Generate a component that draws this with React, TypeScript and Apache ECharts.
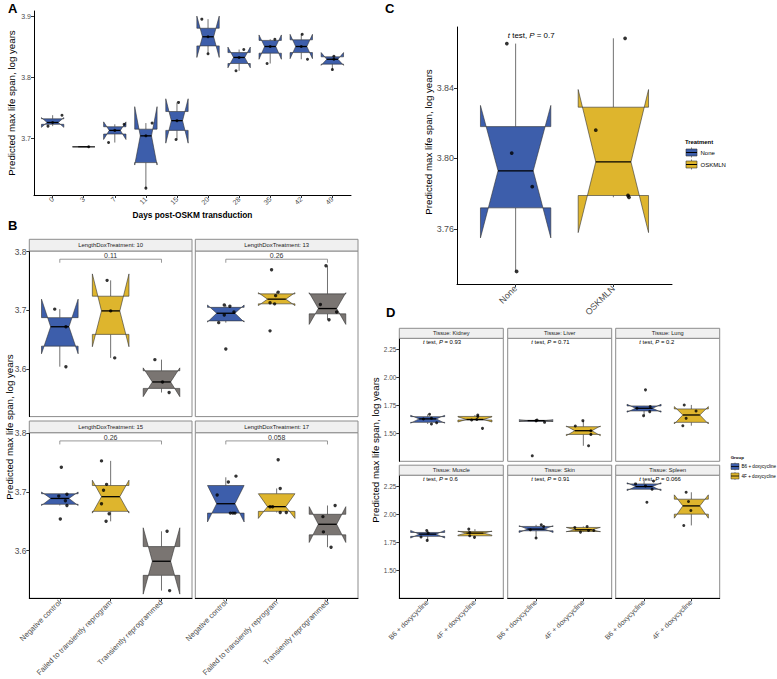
import React, { useEffect, useRef } from "react";
import * as echarts from "echarts";

const FONT = "'Liberation Sans', Arial, Helvetica, sans-serif";
const FILLS = ["#3D5EAB", "#DEB52D", "#7A7572"];
const OUTLINE = "#333333";
const TICK_COLOR = "#4D4D4D";

// Box statistics: [whiskerLow, notchLow, q1, median, q3, notchHigh, whiskerHigh]
// Points: [jitter, value]

// ---------- Panel A ----------
const daysA = ["0", "3", "7", "11", "15", "20", "28", "35", "42", "49"];
const boxesA = [
  [3.72, 3.718, 3.723, 3.726, 3.732, 3.734, 3.738],
  [3.686, 3.686, 3.686, 3.686, 3.686, 3.686, 3.686],
  [3.693, 3.698, 3.707, 3.713, 3.719, 3.727, 3.723],
  [3.618, 3.656, 3.66, 3.704, 3.715, 3.752, 3.725],
  [3.698, 3.692, 3.713, 3.729, 3.744, 3.765, 3.759],
  [3.839, 3.833, 3.852, 3.867, 3.881, 3.901, 3.896],
  [3.811, 3.816, 3.823, 3.833, 3.841, 3.85, 3.846],
  [3.823, 3.83, 3.84, 3.851, 3.861, 3.87, 3.863],
  [3.83, 3.831, 3.841, 3.851, 3.862, 3.871, 3.871],
  [3.813, 3.82, 3.822, 3.83, 3.834, 3.841, 3.835],
];
const pointsA = [
  [[0.3, 3.738], [-0.15, 3.72], [0, 3.726]],
  [[0.16, 3.686]],
  [[0.3, 3.723], [-0.2, 3.693], [0, 3.713]],
  [[0.2, 3.725], [0, 3.618], [0, 3.704]],
  [[0.05, 3.759], [-0.03, 3.698], [0, 3.729]],
  [[-0.2, 3.896], [0, 3.839], [0, 3.867]],
  [[0.15, 3.846], [-0.1, 3.811], [0, 3.833]],
  [[0.15, 3.863], [-0.1, 3.823], [0, 3.851]],
  [[0.03, 3.871], [0.2, 3.83], [0, 3.851]],
  [[0.05, 3.835], [0, 3.813], [0.05, 3.83]],
];

// ---------- Panel B ----------
const groupsB = ["Negative control", "Failed to transiently reprogram", "Transiently reprogrammed"];
const facetsB = ["LengthDoxTreatment: 10", "LengthDoxTreatment: 13", "LengthDoxTreatment: 15", "LengthDoxTreatment: 17"];
const pvalsB = ["0.11", "0.26", "0.26", "0.058"];
const boxesB10 = [
  [3.604, 3.626, 3.639, 3.672, 3.6875, 3.719, 3.702],
  [3.619, 3.638, 3.659, 3.699, 3.724, 3.762, 3.751],
  [3.56, 3.553, 3.567, 3.578, 3.597, 3.602, 3.616],
];
const pointsB10 = [
  [[-0.1, 3.702], [0.12, 3.672], [0.12, 3.604]],
  [[-0.07, 3.751], [0, 3.699], [0.08, 3.619]],
  [[-0.13, 3.616], [0.15, 3.56], [0.02, 3.578]],
];
const boxesB13 = [
  [3.679, 3.68, 3.682, 3.695, 3.705, 3.709, 3.709],
  [3.711, 3.708, 3.711, 3.719, 3.728, 3.73, 3.731],
  [3.684, 3.676, 3.694, 3.703, 3.728, 3.73, 3.776],
];
const pointsB13 = [
  [[-0.14, 3.679], [-0.03, 3.709], [0.08, 3.707], [-0.03, 3.692], [0.16, 3.697], [0, 3.634]],
  [[-0.1, 3.769], [0.03, 3.731], [-0.02, 3.725], [-0.13, 3.713], [-0.04, 3.711], [-0.13, 3.665]],
  [[-0.03, 3.776], [-0.14, 3.71], [0.03, 3.684], [0.18, 3.697]],
];
const boxesB15 = [
  [3.677, 3.677, 3.679, 3.689, 3.697, 3.7, 3.697],
  [3.65, 3.664, 3.667, 3.692, 3.711, 3.72, 3.753],
  [3.532, 3.526, 3.558, 3.582, 3.607, 3.639, 3.633],
];
const pointsB15 = [
  [[0.03, 3.742], [-0.02, 3.693], [0.14, 3.696], [0.11, 3.685], [0.14, 3.677], [0.01, 3.654]],
  [[-0.18, 3.753], [-0.08, 3.713], [-0.14, 3.703], [-0.18, 3.68], [-0.03, 3.663], [-0.09, 3.65]],
  [[0.11, 3.633], [0.16, 3.532]],
];
const boxesB17 = [
  [3.664, 3.649, 3.664, 3.68, 3.711, 3.711, 3.725],
  [3.665, 3.655, 3.667, 3.675, 3.697, 3.697, 3.706],
  [3.606, 3.614, 3.627, 3.645, 3.662, 3.675, 3.677],
];
const pointsB17 = [
  [[-0.17, 3.695], [0.05, 3.717], [0.2, 3.727], [0.09, 3.664], [0.18, 3.664], [0.14, 3.664]],
  [[0.03, 3.755], [0.07, 3.706], [-0.13, 3.675], [-0.08, 3.675], [0.07, 3.665], [0.19, 3.665]],
  [[0.15, 3.677], [-0.09, 3.658], [-0.08, 3.632], [0.07, 3.606]],
];
const boxesB = [boxesB10, boxesB13, boxesB15, boxesB17];
const pointsB = [pointsB10, pointsB13, pointsB15, pointsB17];

// ---------- Panel C ----------
const groupsC = ["None", "OSKMLN"];
const boxesC = [
  [3.736, 3.755, 3.772, 3.793, 3.818, 3.83, 3.865],
  [3.778, 3.758, 3.779, 3.798, 3.829, 3.839, 3.868],
];
const pointsC = [
  [[-0.09, 3.865], [-0.04, 3.803], [0.17, 3.784], [0.01, 3.736]],
  [[0.12, 3.868], [-0.18, 3.816], [0.15, 3.779], [0.16, 3.778]],
];
const pvalC = "0.7";

// ---------- Panel D ----------
const groupsD = ["B6 + doxycycline", "4F + doxycycline"];
const tissuesD = ["Kidney", "Liver", "Lung", "Muscle", "Skin", "Spleen"];
const pvalsD = ["0.93", "0.71", "0.2", "0.6", "0.91", "0.066"];
const boxesD = [
  [[1.584, 1.592, 1.599, 1.63, 1.65, 1.662, 1.671], [1.62, 1.602, 1.62, 1.625, 1.652, 1.648, 1.665]],
  [[1.599, 1.606, 1.608, 1.614, 1.617, 1.622, 1.62], [1.389, 1.48, 1.491, 1.524, 1.56, 1.566, 1.614]],
  [[1.659, 1.69, 1.701, 1.725, 1.746, 1.761, 1.74], [1.569, 1.585, 1.599, 1.665, 1.719, 1.74, 1.755]],
  [[1.768, 1.789, 1.804, 1.824, 1.839, 1.857, 1.857], [1.795, 1.815, 1.809, 1.833, 1.848, 1.851, 1.869]],
  [[1.789, 1.839, 1.854, 1.869, 1.893, 1.899, 1.908], [1.842, 1.845, 1.848, 1.863, 1.884, 1.884, 1.893]],
  [[2.226, 2.214, 2.226, 2.25, 2.274, 2.284, 2.3], [1.902, 1.967, 2.003, 2.077, 2.137, 2.176, 2.199]],
];
const pointsD = [
  [[[0.04, 1.671], [0.08, 1.635], [0.08, 1.584], [0.19, 1.596], [-0.09, 1.629]], [[0.06, 1.665], [0.06, 1.652], [-0.07, 1.62], [0.04, 1.625], [0.16, 1.545]]],
  [[[0.02, 1.62], [0.18, 1.599], [-0.08, 1.299], [0, 1.614]], [[-0.01, 1.614], [-0.17, 1.566], [0.16, 1.524], [0.16, 1.491], [0.11, 1.389]]],
  [[[0.03, 1.89], [-0.15, 1.725], [0.13, 1.74], [0.12, 1.695], [-0.01, 1.659]], [[-0.15, 1.755], [0.1, 1.701], [-0.11, 1.635], [-0.18, 1.569]]],
  [[[-0.02, 1.857], [-0.14, 1.798], [-0.01, 1.768], [0.01, 1.833]], [[-0.13, 1.869], [-0.11, 1.839], [-0.11, 1.81], [-0.01, 1.795]]],
  [[[0.11, 1.908], [0.16, 1.893], [-0.12, 1.863], [0, 1.789]], [[-0.18, 1.884], [0.08, 1.893], [-0.06, 1.842], [0.22, 1.857], [0.11, 1.857]]],
  [[[-0.18, 2.274], [0.03, 2.256], [0.17, 2.226], [0.2, 2.3], [0.06, 2.11]], [[-0.11, 2.199], [-0.06, 2.116], [-0.01, 2.036], [-0.16, 1.902]]],
];

const YTITLE = "Predicted max life span, log years";

function makeBoxRender(width: number) {
  return (_params: any, api: any) => {
    const x = api.value(0) as number;
    const wl = api.value(1) as number;
    const nl = api.value(2) as number;
    const q1 = api.value(3) as number;
    const med = api.value(4) as number;
    const q3 = api.value(5) as number;
    const nu = api.value(6) as number;
    const wh = api.value(7) as number;
    const ci = api.value(8) as number;
    const Y = (v: number) => api.coord([x, v])[1];
    const cx = api.coord([x, med])[0];
    const half = api.size([width, 0])[0] / 2;
    const inset = half * 0.5;
    const xmin = cx - half;
    const xmax = cx + half;
    const pts = [
      [xmin, Y(q3)], [xmin, Y(nu)], [xmin + inset, Y(med)], [xmin, Y(nl)], [xmin, Y(q1)],
      [xmax, Y(q1)], [xmax, Y(nl)], [xmax - inset, Y(med)], [xmax, Y(nu)], [xmax, Y(q3)],
    ];
    return {
      type: "group",
      children: [
        { type: "line", shape: { x1: cx, y1: Y(q3), x2: cx, y2: Y(wh) }, style: { stroke: OUTLINE, lineWidth: 0.7 } },
        { type: "line", shape: { x1: cx, y1: Y(q1), x2: cx, y2: Y(wl) }, style: { stroke: OUTLINE, lineWidth: 0.7 } },
        { type: "polygon", shape: { points: pts }, style: { fill: FILLS[ci], stroke: OUTLINE, lineWidth: 0.6 } },
        { type: "line", shape: { x1: xmin + inset, y1: Y(med), x2: xmax - inset, y2: Y(med) }, style: { stroke: "#000", lineWidth: 1.3 } },
      ],
    };
  };
}

interface PanelCfg {
  rect: number[];
  cats: string[];
  yMin: number;
  yMax: number;
  yTicks: number[];
  yDigits: number;
  showY: boolean;
  showX: boolean;
  border: boolean;
  tickFont: number;
  xFont: number;
  boxes: number[][];
  colors: number[];
  points: number[][][];
  dot: number;
}

function buildOption() {
  const grids: any[] = [];
  const xAxes: any[] = [];
  const yAxes: any[] = [];
  const series: any[] = [];
  const graphics: any[] = [];

  const addPanel = (c: PanelCfg) => {
    const i = grids.length;
    const n = c.cats.length;
    const xs = c.cats.map((_, k) => k + 1);
    grids.push({
      left: c.rect[0], top: c.rect[1], width: c.rect[2], height: c.rect[3],
      show: c.border, borderColor: "#8C8C8C", borderWidth: 1, backgroundColor: "transparent",
    });
    xAxes.push({
      gridIndex: i, type: "value", min: 0.4, max: n + 0.6,
      axisLine: { show: c.showX, onZero: false, lineStyle: { color: "#000", width: 1 } },
      axisTick: { show: c.showX, customValues: xs, length: 3, lineStyle: { color: "#333" } },
      axisLabel: {
        show: c.showX, customValues: xs, rotate: 45, margin: 3, fontSize: c.xFont,
        color: TICK_COLOR, fontFamily: FONT,
        formatter: (v: number) => c.cats[Math.round(v) - 1] ?? "",
      },
      splitLine: { show: false },
    });
    yAxes.push({
      gridIndex: i, type: "value", min: c.yMin, max: c.yMax,
      axisLine: { show: c.showY, onZero: false, lineStyle: { color: "#000", width: 1 } },
      axisTick: { show: c.showY, customValues: c.yTicks, length: 3, lineStyle: { color: "#333" } },
      axisLabel: {
        show: c.showY, customValues: c.yTicks, margin: 3, fontSize: c.tickFont,
        color: TICK_COLOR, fontFamily: FONT,
        formatter: (v: number) => v.toFixed(c.yDigits),
      },
      splitLine: { show: false },
    });
    series.push({
      type: "custom", xAxisIndex: i, yAxisIndex: i, silent: true, z: 2,
      renderItem: makeBoxRender(0.72),
      encode: { x: 0, y: [1, 2, 3, 4, 5, 6, 7] },
      data: c.boxes.map((b, k) => [k + 1, ...b, c.colors[k]]),
    });
    series.push({
      type: "scatter", xAxisIndex: i, yAxisIndex: i, silent: true, z: 3,
      symbolSize: c.dot, itemStyle: { color: "#000" },
      data: c.points.flatMap((ps, k) => ps.map(([j, v]) => [k + 1 + j, v])),
    });
    return i;
  };

  const addPText = (i: number, label: string, x: number, y: number, size: number) => {
    series.push({
      type: "custom", xAxisIndex: i, yAxisIndex: i, silent: true, z: 4,
      data: [[x, y]],
      renderItem: (_p: any, api: any) => {
        const pt = api.coord([api.value(0), api.value(1)]);
        return {
          type: "text", x: pt[0], y: pt[1],
          style: {
            text: "{i|t} test, {i|P} = " + label,
            rich: { i: { fontStyle: "italic", fontSize: size, fontFamily: FONT, fill: "#000" } },
            fontSize: size, fontFamily: FONT, fill: "#000", align: "left", verticalAlign: "middle",
          },
        };
      },
    });
  };

  const addBracket = (i: number, label: string, yTop: number, yLow: number, yText: number) => {
    series.push({
      type: "custom", xAxisIndex: i, yAxisIndex: i, silent: true, z: 4,
      data: [[1, 3, yTop, yLow, yText]],
      renderItem: (_p: any, api: any) => {
        const a = api.coord([api.value(0), api.value(2)]);
        const b = api.coord([api.value(1), api.value(2)]);
        const yl = api.coord([api.value(0), api.value(3)])[1];
        const m = api.coord([(api.value(0) + api.value(1)) / 2, api.value(4)]);
        return {
          type: "group",
          children: [
            { type: "polyline", shape: { points: [[a[0], yl], a, b, [b[0], yl]] }, style: { stroke: "#7F7F7F", lineWidth: 0.8, fill: "none" } },
            { type: "text", x: m[0], y: m[1], style: { text: label, align: "center", verticalAlign: "middle", fontSize: 7, fontFamily: FONT, fill: "#333" } },
          ],
        };
      },
    });
  };

  const text = (t: string, x: number, y: number, size: number, opts: any = {}) => {
    graphics.push({
      type: "text", x, y, rotation: opts.rotation ?? 0, silent: true, z: 10,
      style: {
        text: t, fontSize: size, fontFamily: FONT, fill: opts.fill ?? "#000",
        fontWeight: opts.bold ? "bold" : "normal",
        align: opts.align ?? "center", verticalAlign: opts.va ?? "middle",
      },
    });
  };

  // Panel A
  addPanel({
    rect: [34, 11, 317, 184], cats: daysA, yMin: 3.6067, yMax: 3.9094, yTicks: [3.7, 3.8, 3.9], yDigits: 1,
    showY: true, showX: true, border: false, tickFont: 7, xFont: 7,
    boxes: boxesA, colors: boxesA.map(() => 0), points: pointsA, dot: 3,
  });
  text("Days post-OSKM transduction", 192.5, 215, 8.3, { bold: true });
  text(YTITLE, 11, 103, 9.7, { rotation: Math.PI / 2 });
  text("A", 8, 8.5, 13, { bold: true, align: "left" });

  // Panel B
  const bLeft = [29.3, 195.3];
  const bTop = [251, 432.7];
  const bW = 162.7;
  const bH = 165.6;
  const stripB = 11.7;
  facetsB.forEach((f, k) => {
    const col = k % 2;
    const row = Math.floor(k / 2);
    const i = addPanel({
      rect: [bLeft[col], bTop[row], bW, bH], cats: groupsB, yMin: 3.519, yMax: 3.801, yTicks: [3.6, 3.7, 3.8], yDigits: 1,
      showY: col === 0, showX: row === 1, border: true, tickFont: 8.4, xFont: 7.6,
      boxes: boxesB[k], colors: [0, 1, 2], points: pointsB[k], dot: 3.4,
    });
    addBracket(i, pvalsB[k], 3.787, 3.781, 3.7935);
    graphics.push({
      type: "rect", silent: true, z: 9,
      shape: { x: bLeft[col], y: bTop[row] - stripB, width: bW, height: stripB },
      style: { fill: "#F0F0F0", stroke: "#8C8C8C", lineWidth: 1 },
    });
    text(f, bLeft[col] + bW / 2, bTop[row] - stripB / 2, 5.9, { fill: "#1A1A1A" });
  });
  text(YTITLE, 9, 427, 9.7, { rotation: Math.PI / 2 });
  text("B", 8, 225, 13, { bold: true, align: "left" });

  // Panel C
  const ic = addPanel({
    rect: [457, 27, 215, 257], cats: groupsC, yMin: 3.7289, yMax: 3.8744, yTicks: [3.76, 3.8, 3.84], yDigits: 2,
    showY: true, showX: true, border: false, tickFont: 8.9, xFont: 8.9,
    boxes: boxesC, colors: [0, 1], points: pointsC, dot: 3.8,
  });
  addPText(ic, pvalC, 0.92, 3.8695, 7.9);
  text(YTITLE, 428, 142, 9.7, { rotation: Math.PI / 2 });
  text("C", 385, 8.5, 13, { bold: true, align: "left" });
  // Legend C
  text("Treatment", 685, 142, 5.9, { bold: true, align: "left" });
  [0, 1].forEach((k) => {
    const y0 = 149 + k * 12;
    graphics.push({ type: "line", silent: true, shape: { x1: 691.5, y1: y0 - 1.5, x2: 691.5, y2: y0 + 8.5 }, style: { stroke: OUTLINE, lineWidth: 0.6 } });
    graphics.push({ type: "rect", silent: true, shape: { x: 686, y: y0, width: 11, height: 7 }, style: { fill: FILLS[k], stroke: OUTLINE, lineWidth: 0.6 } });
    graphics.push({ type: "line", silent: true, shape: { x1: 686, y1: y0 + 3.5, x2: 697, y2: y0 + 3.5 }, style: { stroke: "#000", lineWidth: 1 } });
    text(groupsC[k], 700.5, y0 + 3.8, 6, { align: "left" });
  });

  // Panel D
  const dLeft = [399.3, 507.7, 615.7];
  const dTop = [338.3, 475.2];
  const dW = 104;
  const dH = 123;
  const stripD = 10;
  tissuesD.forEach((t, k) => {
    const col = k % 3;
    const row = Math.floor(k / 3);
    const i = addPanel({
      rect: [dLeft[col], dTop[row], dW, dH], cats: groupsD, yMin: 1.25, yMax: 2.352, yTicks: [1.5, 1.75, 2.0, 2.25], yDigits: 2,
      showY: col === 0, showX: row === 1, border: true, tickFont: 6.4, xFont: 7.1,
      boxes: boxesD[k], colors: [0, 1], points: pointsD[k], dot: 3,
    });
    addPText(i, pvalsD[k], 0.9, 2.322, 5.9);
    graphics.push({
      type: "rect", silent: true, z: 9,
      shape: { x: dLeft[col], y: dTop[row] - stripD, width: dW, height: stripD },
      style: { fill: "#F0F0F0", stroke: "#8C8C8C", lineWidth: 1 },
    });
    text("Tissue: " + t, dLeft[col] + dW / 2, dTop[row] - stripD / 2, 5.6, { fill: "#1A1A1A" });
  });
  text(YTITLE, 375, 450, 9.7, { rotation: Math.PI / 2 });
  text("D", 386, 312, 13, { bold: true, align: "left" });
  // Legend D
  text("Group", 730.7, 457, 4.4, { bold: true, align: "left" });
  [0, 1].forEach((k) => {
    const y0 = 463.5 + k * 9.5;
    graphics.push({ type: "line", silent: true, shape: { x1: 735, y1: y0 - 1, x2: 735, y2: y0 + 7 }, style: { stroke: OUTLINE, lineWidth: 0.5 } });
    graphics.push({ type: "rect", silent: true, shape: { x: 731, y: y0, width: 8, height: 6 }, style: { fill: FILLS[k], stroke: OUTLINE, lineWidth: 0.5 } });
    graphics.push({ type: "line", silent: true, shape: { x1: 731, y1: y0 + 3, x2: 739, y2: y0 + 3 }, style: { stroke: "#000", lineWidth: 0.8 } });
    text(groupsD[k], 741.5, y0 + 3.2, 4.6, { align: "left" });
  });

  return {
    animation: false,
    backgroundColor: "#fff",
    grid: grids,
    xAxis: xAxes,
    yAxis: yAxes,
    series,
    graphic: graphics,
  };
}

export default function App() {
  const ref = useRef<HTMLDivElement>(null);
  useEffect(() => {
    if (!ref.current) return;
    const chart = echarts.init(ref.current, null, { renderer: "svg" });
    chart.setOption(buildOption() as any);
    return () => chart.dispose();
  }, []);
  return <div ref={ref} style={{ position: "fixed", left: 0, top: 0, width: 777, height: 679 }} />;
}
